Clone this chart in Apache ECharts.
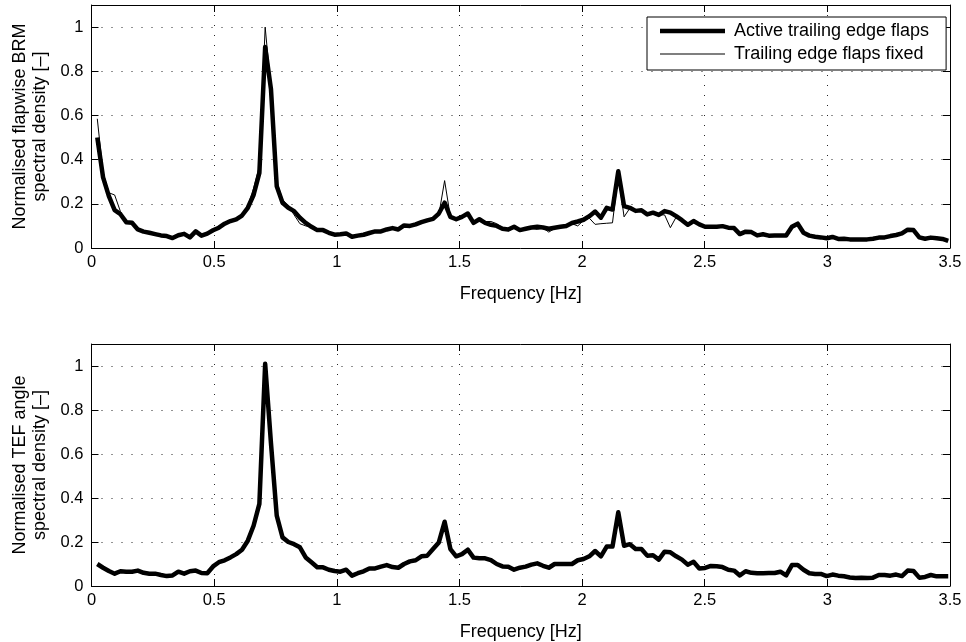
<!DOCTYPE html>
<html>
<head>
<meta charset="utf-8">
<script src="https://cdn.jsdelivr.net/npm/echarts@6/dist/echarts.min.js"></script>
<style>
  html, body { margin: 0; padding: 0; background: #fff; }
  #chart { width: 966px; height: 642px; }
</style>
</head>
<body>
<div id="chart"></div>
<script>
// Frequency bin spacing of the spectral estimates [Hz]; bin i sits at i * freqStep
const freqStep = 0.0236;

// Normalised flapwise blade root moment spectral density, active trailing edge flaps
const brmActive = [
  0.50, 0.32, 0.235, 0.171, 0.153, 0.117, 0.114, 0.084, 0.074, 0.069,
  0.063, 0.057, 0.054, 0.045, 0.058, 0.064, 0.048, 0.075, 0.056, 0.065,
  0.080, 0.092, 0.110, 0.122, 0.130, 0.147, 0.182, 0.240, 0.340, 0.910,
  0.720, 0.280, 0.205, 0.182, 0.167, 0.137, 0.114, 0.096, 0.081, 0.081,
  0.069, 0.060, 0.062, 0.066, 0.051, 0.056, 0.060, 0.068, 0.075, 0.075,
  0.084, 0.090, 0.084, 0.102, 0.100, 0.107, 0.117, 0.125, 0.132, 0.156,
  0.205, 0.141, 0.130, 0.141, 0.156, 0.114, 0.130, 0.114, 0.105, 0.100,
  0.087, 0.084, 0.096, 0.081, 0.087, 0.093, 0.096, 0.093, 0.087, 0.092,
  0.096, 0.100, 0.113, 0.120, 0.128, 0.144, 0.165, 0.137, 0.182, 0.174,
  0.347, 0.190, 0.182, 0.168, 0.171, 0.152, 0.160, 0.150, 0.167, 0.160,
  0.144, 0.126, 0.105, 0.122, 0.107, 0.096, 0.096, 0.096, 0.099, 0.092,
  0.090, 0.063, 0.074, 0.072, 0.057, 0.062, 0.056, 0.057, 0.057, 0.057,
  0.096, 0.110, 0.069, 0.056, 0.051, 0.048, 0.044, 0.050, 0.041, 0.042,
  0.039, 0.038, 0.039, 0.039, 0.042, 0.047, 0.048, 0.054, 0.059, 0.066,
  0.083, 0.081, 0.048, 0.042, 0.047, 0.044, 0.041, 0.032
];

// Same quantity with the trailing edge flaps held fixed
const brmFixed = [
  0.585, 0.34, 0.250, 0.240, 0.165, 0.118, 0.110, 0.088, 0.072, 0.070,
  0.062, 0.060, 0.056, 0.050, 0.060, 0.062, 0.050, 0.072, 0.058, 0.068,
  0.082, 0.095, 0.112, 0.125, 0.135, 0.155, 0.190, 0.270, 0.370, 1.000,
  0.720, 0.300, 0.220, 0.190, 0.150, 0.110, 0.100, 0.095, 0.085, 0.082,
  0.070, 0.060, 0.060, 0.065, 0.053, 0.055, 0.062, 0.070, 0.075, 0.076,
  0.080, 0.088, 0.086, 0.100, 0.100, 0.105, 0.115, 0.122, 0.130, 0.150,
  0.305, 0.140, 0.132, 0.147, 0.150, 0.118, 0.127, 0.120, 0.120, 0.110,
  0.092, 0.078, 0.090, 0.078, 0.085, 0.088, 0.084, 0.090, 0.072, 0.088,
  0.094, 0.098, 0.110, 0.100, 0.125, 0.135, 0.107, 0.110, 0.112, 0.114,
  0.330, 0.141, 0.180, 0.165, 0.170, 0.150, 0.158, 0.150, 0.150, 0.092,
  0.140, 0.130, 0.110, 0.115, 0.105, 0.095, 0.094, 0.092, 0.096, 0.090,
  0.088, 0.066, 0.072, 0.070, 0.060, 0.060, 0.058, 0.056, 0.058, 0.060,
  0.090, 0.105, 0.072, 0.058, 0.050, 0.050, 0.046, 0.048, 0.042, 0.043,
  0.040, 0.037, 0.040, 0.040, 0.043, 0.046, 0.050, 0.053, 0.060, 0.068,
  0.080, 0.078, 0.050, 0.045, 0.046, 0.045, 0.040, 0.033
];

// Normalised trailing edge flap angle spectral density
const tefAngle = [
  0.100, 0.083, 0.068, 0.056, 0.067, 0.065, 0.065, 0.070, 0.060, 0.056,
  0.056, 0.050, 0.045, 0.048, 0.065, 0.056, 0.067, 0.070, 0.059, 0.058,
  0.089, 0.108, 0.117, 0.130, 0.145, 0.165, 0.206, 0.274, 0.373, 1.010,
  0.650, 0.320, 0.221, 0.200, 0.190, 0.176, 0.130, 0.108, 0.085, 0.085,
  0.074, 0.068, 0.065, 0.074, 0.047, 0.058, 0.067, 0.080, 0.080, 0.088,
  0.095, 0.086, 0.083, 0.100, 0.112, 0.117, 0.135, 0.138, 0.168, 0.198,
  0.292, 0.168, 0.135, 0.145, 0.165, 0.129, 0.126, 0.126, 0.118, 0.100,
  0.089, 0.088, 0.074, 0.083, 0.088, 0.097, 0.103, 0.092, 0.083, 0.100,
  0.100, 0.100, 0.100, 0.117, 0.123, 0.135, 0.159, 0.135, 0.179, 0.179,
  0.335, 0.183, 0.190, 0.168, 0.168, 0.138, 0.140, 0.120, 0.156, 0.153,
  0.135, 0.120, 0.097, 0.110, 0.080, 0.082, 0.091, 0.090, 0.086, 0.074,
  0.070, 0.048, 0.067, 0.060, 0.058, 0.058, 0.059, 0.059, 0.065, 0.048,
  0.095, 0.095, 0.074, 0.058, 0.055, 0.055, 0.045, 0.052, 0.047, 0.044,
  0.039, 0.036, 0.038, 0.036, 0.038, 0.050, 0.050, 0.047, 0.052, 0.045,
  0.070, 0.068, 0.038, 0.041, 0.050, 0.044, 0.044, 0.044
];

const seriesNames = ['Active trailing edge flaps', 'Trailing edge flaps fixed'];
const yAxisTitles = [
  'Normalised flapwise BRM\nspectral density [–]',
  'Normalised TEF angle\nspectral density [–]'
];
const xAxisTitle = 'Frequency [Hz]';

const FONT = '"Liberation Sans", Arial, Helvetica, sans-serif';
const TICK_FONT = 16.5;
const TITLE_FONT = 18;

const THICK = 4.5;
const THIN = 1;

function withFreq(values) {
  return values.map((v, i) => [Number(((i + 1) * freqStep).toFixed(4)), v]);
}

const dotted = { color: '#000', width: 1, type: [1, 9], opacity: 0.85 };
const axisBlack = { color: '#000', width: 1 };

function xAxes(g) {
  return [
    {
      type: 'value', gridIndex: g, position: 'bottom',
      min: 0, max: 3.5, interval: 0.5,
      name: xAxisTitle, nameLocation: 'middle', nameGap: 37,
      nameTextStyle: { fontFamily: FONT, fontSize: TITLE_FONT, color: '#000' },
      axisLine: { show: true, onZero: false, lineStyle: axisBlack },
      axisTick: { show: true, inside: true, length: 7, lineStyle: axisBlack },
      axisLabel: { color: '#000', fontFamily: FONT, fontSize: TICK_FONT, margin: 6 },
      splitLine: { show: true, lineStyle: dotted }
    },
    {
      type: 'value', gridIndex: g, position: 'top',
      min: 0, max: 3.5, interval: 0.5,
      axisLine: { show: true, onZero: false, lineStyle: axisBlack },
      axisTick: { show: true, inside: true, length: 7, lineStyle: axisBlack },
      axisLabel: { show: false },
      splitLine: { show: false }
    }
  ];
}

function yAxes(g) {
  const fmt = v => (Math.abs(v * 5 - Math.round(v * 5)) < 1e-6 ? String(Math.round(v * 10) / 10) : '');
  return [
    {
      type: 'value', gridIndex: g, position: 'left',
      min: 0, max: 1.1, interval: 0.2,
      name: yAxisTitles[g], nameLocation: 'middle', nameGap: 41, nameRotate: 90,
      nameTextStyle: { fontFamily: FONT, fontSize: TITLE_FONT, color: '#000', lineHeight: 20 },
      axisLine: { show: true, onZero: false, lineStyle: axisBlack },
      axisTick: { show: true, inside: true, length: 7, lineStyle: axisBlack },
      axisLabel: { color: '#000', fontFamily: FONT, fontSize: TICK_FONT, margin: 8, formatter: fmt, showMaxLabel: false },
      splitLine: { show: true, lineStyle: dotted }
    },
    {
      type: 'value', gridIndex: g, position: 'right',
      min: 0, max: 1.1, interval: 0.2,
      axisLine: { show: true, onZero: false, lineStyle: axisBlack },
      axisTick: { show: true, inside: true, length: 7, lineStyle: axisBlack },
      axisLabel: { show: false },
      splitLine: { show: false }
    }
  ];
}

const chart = echarts.init(document.getElementById('chart'), null, { renderer: 'canvas' });

chart.setOption({
  animation: false,
  backgroundColor: '#fff',
  grid: [
    { left: 91.5, top: 5, width: 858.5, height: 243 },
    { left: 91.5, top: 344, width: 858.5, height: 243 }
  ],
  xAxis: [...xAxes(0), ...xAxes(1)],
  yAxis: [...yAxes(0), ...yAxes(1)],
  legend: {
    data: [
      { name: seriesNames[0], icon: 'path://M0 0H100V7H0Z' },
      { name: seriesNames[1], icon: 'path://M0 0H100V1.5H0Z' }
    ],
    orient: 'vertical',
    left: 647, top: 17,
    padding: [4, 17, 6, 13],
    itemGap: 3,
    itemWidth: 65, itemHeight: 14,
    symbolKeepAspect: true,
    backgroundColor: '#fff',
    borderColor: '#000', borderWidth: 1, borderRadius: 0,
    textStyle: { fontFamily: FONT, fontSize: TITLE_FONT, color: '#000', lineHeight: 20, padding: [0, 0, 0, 4] },
    selectedMode: false,
    z: 10
  },
  series: [
    {
      name: seriesNames[0], type: 'line', xAxisIndex: 0, yAxisIndex: 0,
      data: withFreq(brmActive), symbol: 'none', showSymbol: false,
      lineStyle: { color: '#000', width: THICK, join: 'round' },
      itemStyle: { color: '#000' }
    },
    {
      name: seriesNames[1], type: 'line', xAxisIndex: 0, yAxisIndex: 0,
      data: withFreq(brmFixed), symbol: 'none', showSymbol: false,
      lineStyle: { color: '#000', width: THIN },
      itemStyle: { color: '#000' }
    },
    {
      name: 'TEF angle', type: 'line', xAxisIndex: 2, yAxisIndex: 2,
      data: withFreq(tefAngle), symbol: 'none', showSymbol: false,
      lineStyle: { color: '#000', width: THICK, join: 'round' },
      itemStyle: { color: '#000' }
    }
  ]
});
</script>
</body>
</html>
